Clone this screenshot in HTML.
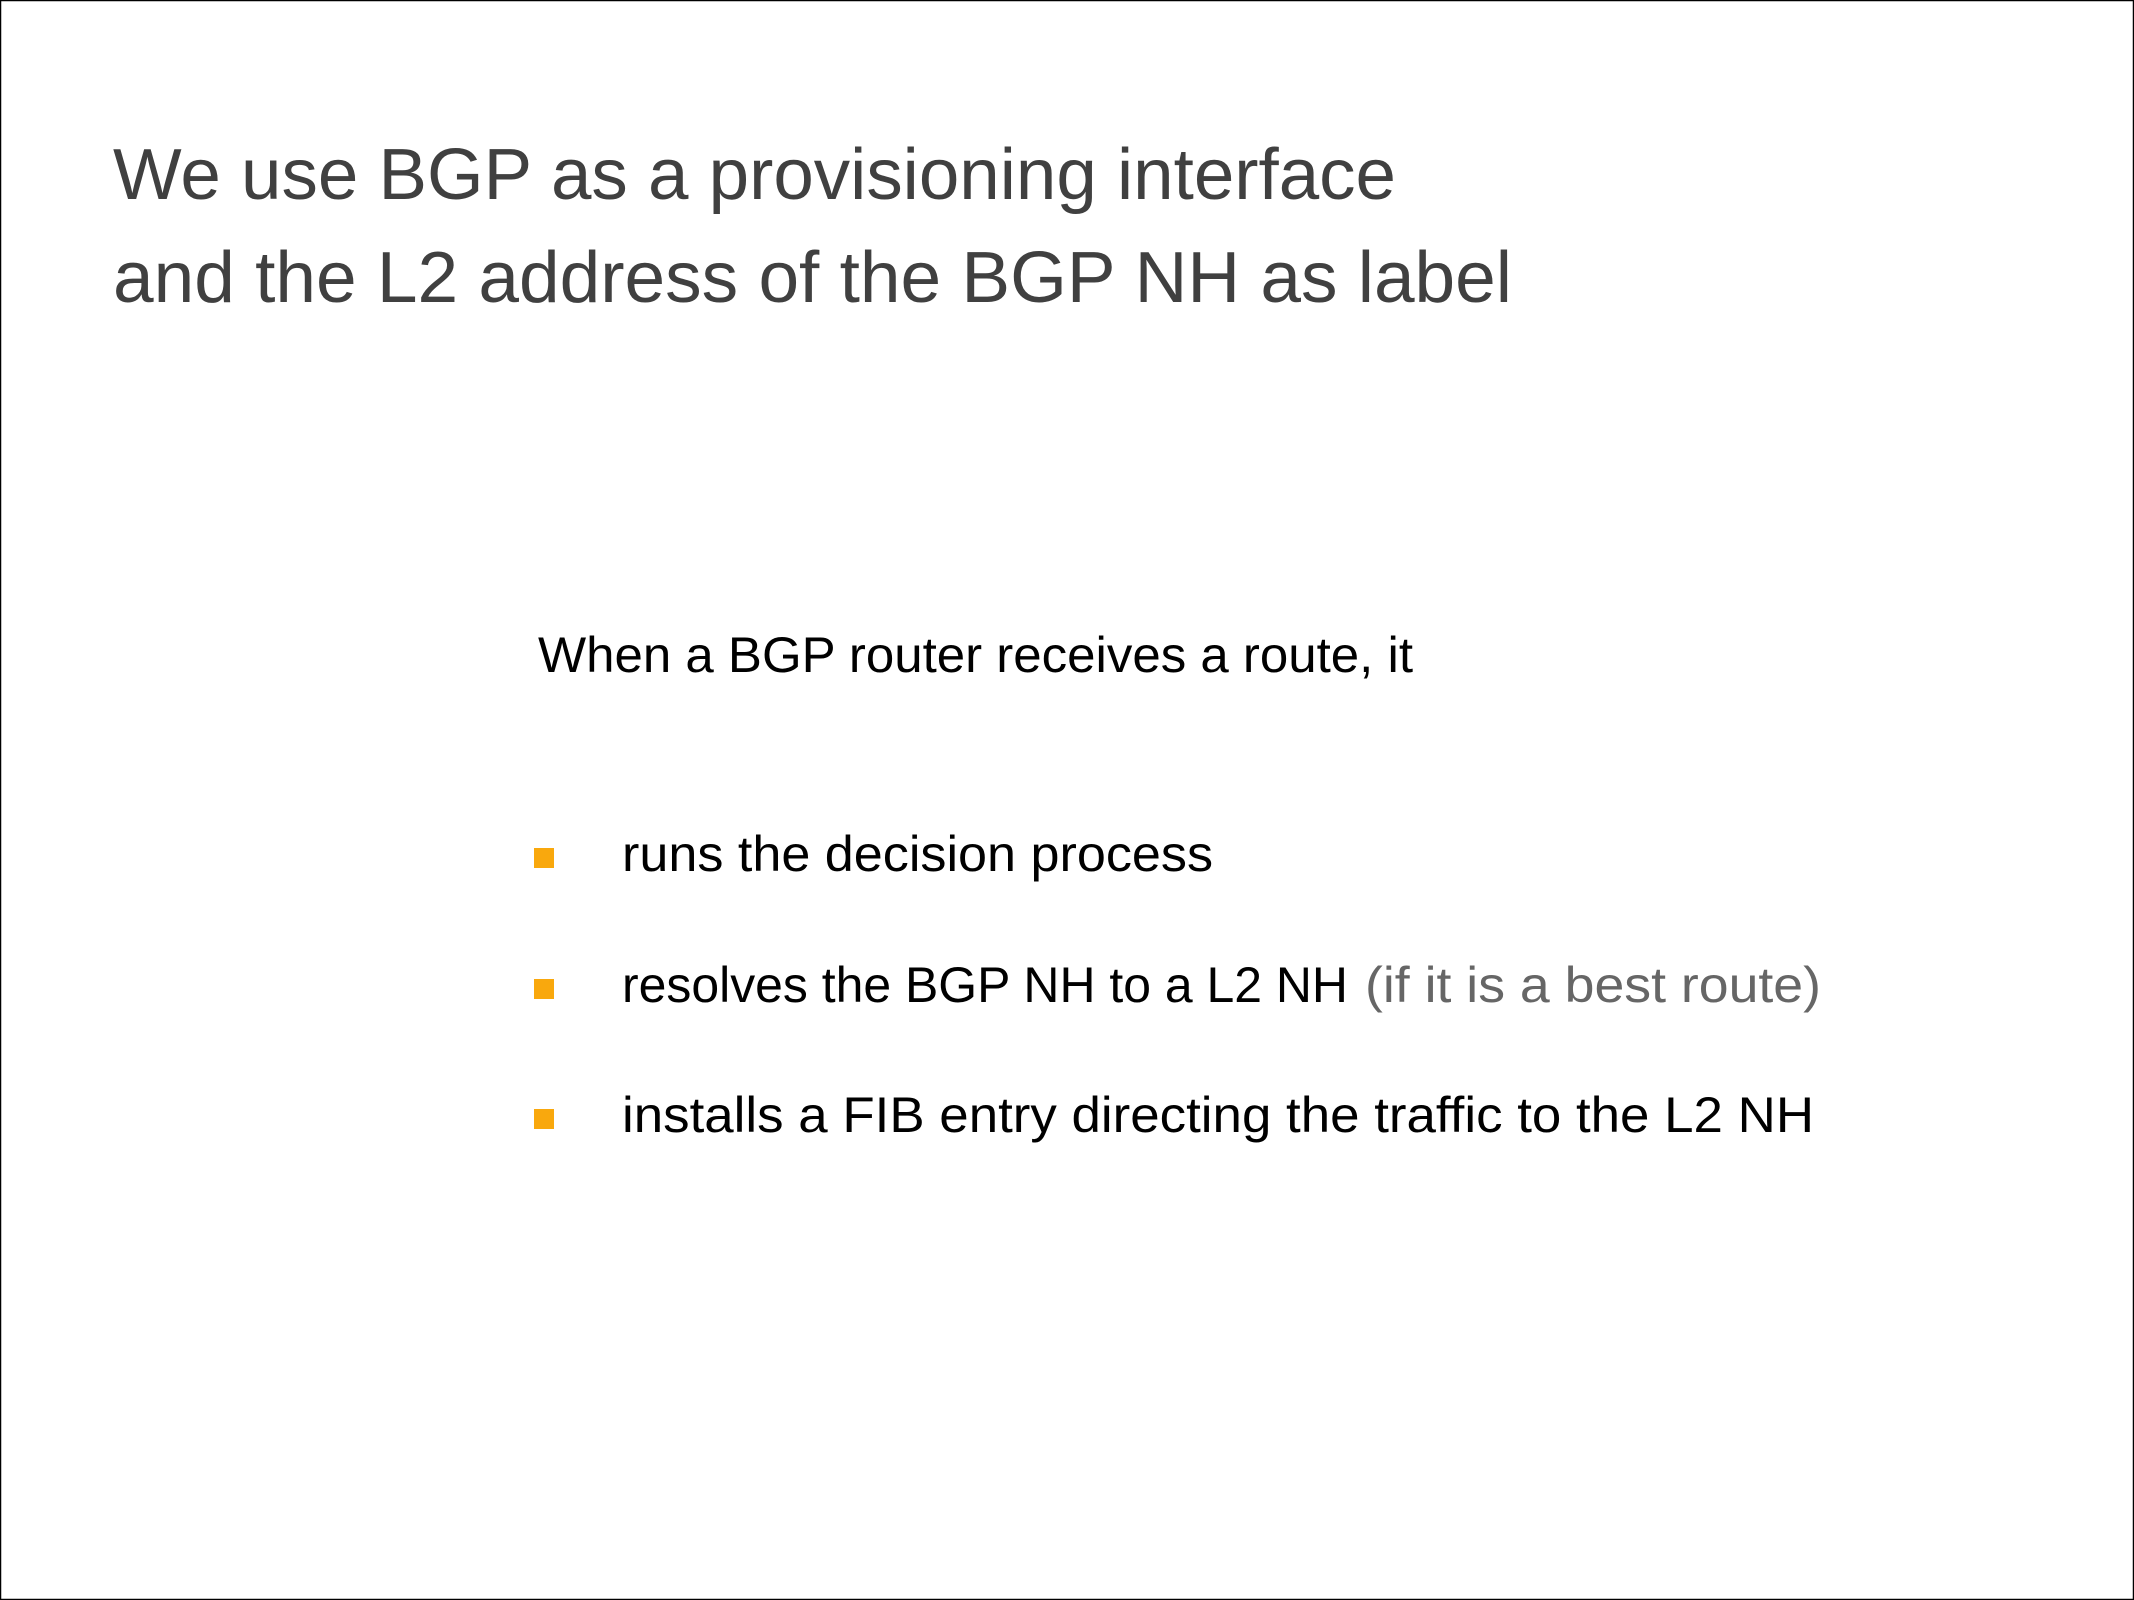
<!DOCTYPE html>
<html><head><meta charset="utf-8"><style>
html,body{margin:0;padding:0;background:#fff}
svg{display:block}
text{font-family:"Liberation Sans","DejaVu Sans",sans-serif}
</style></head><body>
<svg width="2134" height="1600" viewBox="0 0 2134 1600" xmlns="http://www.w3.org/2000/svg">
<rect x="0.5" y="0.5" width="2133" height="1599" fill="#fff" stroke="#000" stroke-width="1.5"/>
<text x="113" y="199" font-size="72" fill="#404040" textLength="1283" lengthAdjust="spacingAndGlyphs">We use BGP as a provisioning interface</text>
<text x="113" y="302" font-size="72" fill="#404040" textLength="1399" lengthAdjust="spacingAndGlyphs">and the L2 address of the BGP NH as label</text>
<text x="538" y="672" font-size="50" fill="#000" textLength="875" lengthAdjust="spacingAndGlyphs">When a BGP router receives a route, it</text>
<rect x="534" y="848" width="20" height="20" fill="#f9a80d"/>
<rect x="534" y="979" width="20" height="20" fill="#f9a80d"/>
<rect x="534" y="1109" width="20" height="20" fill="#f9a80d"/>
<text x="622" y="871" font-size="50" fill="#000" textLength="591" lengthAdjust="spacingAndGlyphs">runs the decision process</text>
<text x="622" y="1002" font-size="50" fill="#000" textLength="726" lengthAdjust="spacingAndGlyphs">resolves the BGP NH to a L2 NH</text>
<text x="1365" y="1002" font-size="50" fill="#666" textLength="456" lengthAdjust="spacingAndGlyphs">(if it is a best route)</text>
<text x="622" y="1132" font-size="50" fill="#000" textLength="1192" lengthAdjust="spacingAndGlyphs">installs a FIB entry directing the traffic to the L2 NH</text>
</svg>
</body></html>
